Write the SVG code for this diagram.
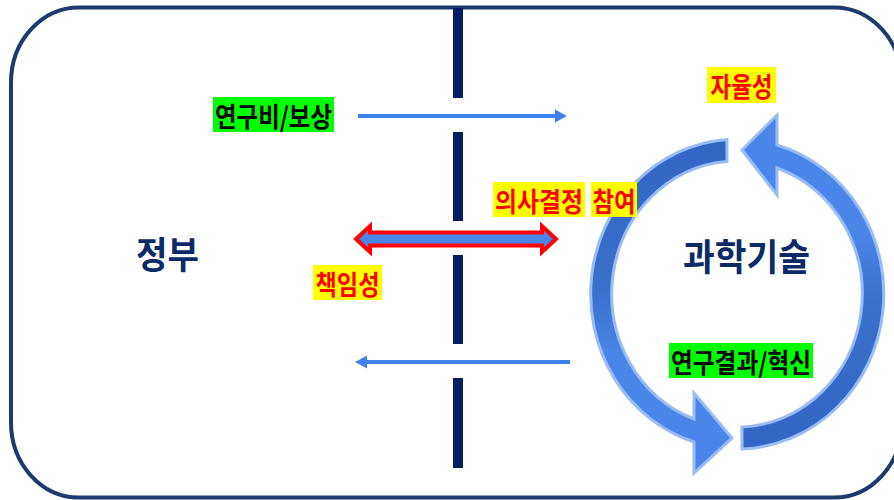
<svg xmlns="http://www.w3.org/2000/svg" width="894" height="500" viewBox="0 0 894 500">
  <style>
    .lbl { font-family: "Noto Sans CJK KR", "Noto Sans", sans-serif; font-weight: 700; font-size: 27px; text-anchor: middle; dominant-baseline: central; }
    .red { fill: #ff0000; }
    .blk { fill: #000000; }
    .ylw { fill: #ffff00; }
    .grn { fill: #00ff00; }
    .big { font-family: "Noto Sans CJK KR", "Noto Sans", sans-serif; font-weight: 700; font-size: 37px; fill: #0b2a66; text-anchor: middle; dominant-baseline: central; }
    .bar { fill: #002060; }
    .flow { stroke: #3f80ea; stroke-width: 4; fill: none; }
    .head { fill: #3f80ea; }
    .ring { stroke: #98bcf4; stroke-width: 3; stroke-linejoin: miter; }
  </style>
  <defs>
    <linearGradient id="gLeft" gradientUnits="userSpaceOnUse" x1="0" y1="140" x2="0" y2="470">
      <stop offset="0" stop-color="#3366c2"/>
      <stop offset="0.45" stop-color="#3a6fcc"/>
      <stop offset="0.65" stop-color="#4a86e8"/>
      <stop offset="1" stop-color="#4a86e8"/>
    </linearGradient>
    <linearGradient id="gRight" gradientUnits="userSpaceOnUse" x1="0" y1="450" x2="0" y2="120">
      <stop offset="0" stop-color="#3366c2"/>
      <stop offset="0.45" stop-color="#3a6fcc"/>
      <stop offset="0.65" stop-color="#4a86e8"/>
      <stop offset="1" stop-color="#4a86e8"/>
    </linearGradient>
  </defs>

  <rect width="894" height="500" fill="#ffffff"/>

  <!-- outer frame -->
  <rect id="frame" x="11" y="7.5" width="891" height="490" rx="68" ry="75" fill="none" stroke="#1c3a6e" stroke-width="4"/>

  <!-- dashed barrier -->
  <g id="barrier">
    <rect class="bar" x="453" y="8" width="10" height="90"/>
    <rect class="bar" x="453" y="132" width="10" height="89"/>
    <rect class="bar" x="453" y="255" width="10" height="89"/>
    <rect class="bar" x="453" y="378" width="10" height="90"/>
  </g>

  <!-- cycle arrows -->
  <g id="cycle">
    <path class="ring" fill="url(#gLeft)" d="M 727,139.4 A 147 155 0 0 0 694,442 L 694,473 L 732,438 L 694,393 L 694,419 A 125 133 0 0 1 727,161.4 Z"/>
    <path class="ring" fill="url(#gRight)" d="M 742,449 A 147 155 0 0 0 777,145 L 777,115 L 742,150 L 777,195 L 777,168 A 125 133 0 0 1 742,427 Z"/>
  </g>

  <!-- nodes -->
  <g id="node-government">
    <text class="big" x="167.5" y="253" textLength="63" lengthAdjust="spacingAndGlyphs">정부</text>
  </g>
  <g id="node-science">
    <text class="big" x="746.5" y="255" textLength="127" lengthAdjust="spacingAndGlyphs">과학기술</text>
  </g>

  <!-- connectors -->
  <g id="connectors">
    <g id="edge-funding">
      <line class="flow" x1="358" y1="116" x2="557" y2="116"/>
      <polygon class="head" points="567,116 555,109.5 555,122.5"/>
    </g>
    <g id="edge-results">
      <line class="flow" x1="570" y1="362" x2="366" y2="362"/>
      <polygon class="head" points="355,362 367,355.5 367,368.5"/>
    </g>
    <g id="edge-participation">
      <polygon points="356,239 370,226 370,232.5 542,232.5 542,226 556,239 542,252 542,245.5 370,245.5 370,252" fill="#4a86e8" stroke="#ff0000" stroke-width="4" stroke-linejoin="miter"/>
    </g>
  </g>

  <!-- labels -->
  <g id="label-funding">
    <rect class="grn" x="213" y="97" width="121" height="35"/>
    <text class="lbl blk" x="273.5" y="115" textLength="117" lengthAdjust="spacingAndGlyphs">연구비/보상</text>
  </g>
  <g id="label-autonomy">
    <rect class="ylw" x="707" y="67" width="69" height="36"/>
    <text class="lbl red" x="741.5" y="85.5" textLength="62" lengthAdjust="spacingAndGlyphs">자율성</text>
  </g>
  <g id="label-decision">
    <rect class="ylw" x="493" y="182" width="92" height="35"/>
    <text class="lbl red" x="539" y="200" textLength="88" lengthAdjust="spacingAndGlyphs">의사결정</text>
    <rect class="ylw" x="591" y="182" width="46" height="35"/>
    <text class="lbl red" x="614" y="200" textLength="43" lengthAdjust="spacingAndGlyphs">참여</text>
  </g>
  <g id="label-accountability">
    <rect class="ylw" x="313" y="265" width="69" height="35"/>
    <text class="lbl red" x="347.5" y="283" textLength="64" lengthAdjust="spacingAndGlyphs">책임성</text>
  </g>
  <g id="label-results">
    <rect class="grn" x="669" y="343" width="144" height="35"/>
    <text class="lbl blk" x="741" y="361" textLength="140" lengthAdjust="spacingAndGlyphs">연구결과/혁신</text>
  </g>
</svg>
